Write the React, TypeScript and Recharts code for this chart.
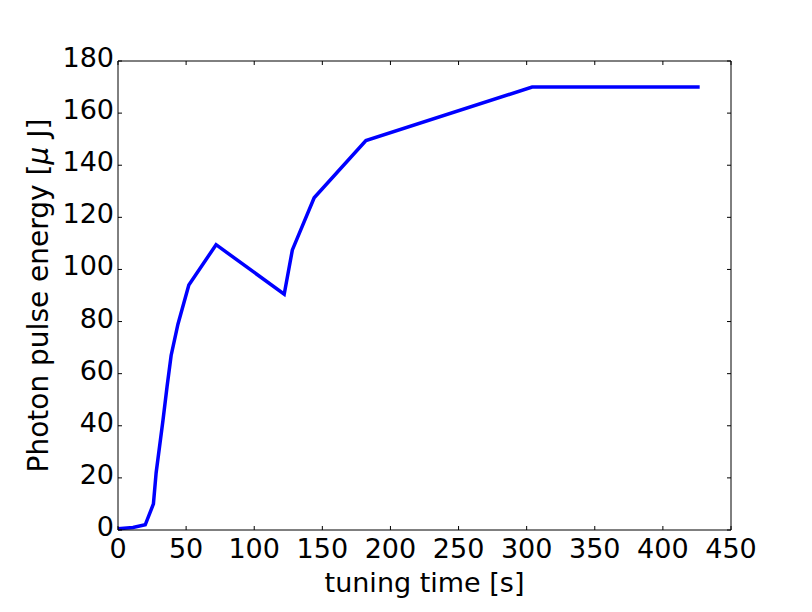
import { LineChart, Line, XAxis, YAxis, Label } from "recharts";

// tuning run
const tuningTime = [0, 11, 20, 26, 28, 33, 36, 39, 44, 52, 72, 122, 128, 144, 182, 304, 427];
const pulseEnergy = [0.5, 1, 2, 10, 22, 42, 55, 67, 79, 94, 109.5, 90.5, 107.5, 127.5, 149.5, 170, 170];
const xTicks = [0, 50, 100, 150, 200, 250, 300, 350, 400, 450];
const yTicks = [0, 20, 40, 60, 80, 100, 120, 140, 160, 180];

const data = tuningTime.map((t, i) => ({ t, e: pulseEnergy[i] }));

const font = "'DejaVu Sans', sans-serif";
const FS = 27;
const TICK = 4;

const BottomTick = (props: any) => {
  const { x, y, payload } = props;
  return (
    <g>
      <line x1={x} y1={y} x2={x} y2={y - TICK} stroke="#000" />
      <text x={x} y={y + 28} textAnchor="middle" fontSize={FS} fontFamily={font} fill="#000">
        {payload.value}
      </text>
    </g>
  );
};

const TopTick = (props: any) => {
  const { x, y } = props;
  return <line x1={x} y1={y} x2={x} y2={y + TICK} stroke="#000" />;
};

const LeftTick = (props: any) => {
  const { x, y, payload } = props;
  return (
    <g>
      <line x1={x} y1={y} x2={x + TICK} y2={y} stroke="#000" />
      <text x={x - 4} y={y + 6} textAnchor="end" fontSize={FS} fontFamily={font} fill="#000">
        {payload.value}
      </text>
    </g>
  );
};

const RightTick = (props: any) => {
  const { x, y } = props;
  return <line x1={x} y1={y} x2={x - TICK} y2={y} stroke="#000" />;
};

export default function App() {
  return (
    <div style={{ position: "absolute", left: 0, top: 0, width: 812, height: 612, background: "#fff" }}>
      <LineChart width={812} height={612} data={data} margin={{ top: 51, right: 71, bottom: 0, left: 0 }}>
        <XAxis
          dataKey="t"
          type="number"
          domain={[0, 450]}
          ticks={xTicks}
          height={82}
          tickSize={0}
          tickMargin={0}
          tickLine={false}
          axisLine={{ stroke: "#000" }}
          tick={<BottomTick />}
          interval={0}
        >
          <Label
            content={() => (
              <text x={424.5} y={591.5} textAnchor="middle" fontSize={FS} fontFamily={font} fill="#000">
                tuning time [s]
              </text>
            )}
          />
        </XAxis>
        <XAxis
          xAxisId="top"
          orientation="top"
          dataKey="t"
          type="number"
          domain={[0, 450]}
          ticks={xTicks}
          height={10}
          tickSize={0}
          tickMargin={0}
          tickLine={false}
          axisLine={{ stroke: "#000" }}
          tick={<TopTick />}
          interval={0}
        />
        <YAxis
          type="number"
          domain={[0, 180]}
          ticks={yTicks}
          width={118}
          tickSize={0}
          tickMargin={0}
          tickLine={false}
          axisLine={{ stroke: "#000" }}
          tick={<LeftTick />}
          interval={0}
        >
          <Label
            content={() => (
              <text
                x={48}
                y={295.5}
                transform="rotate(-90, 48, 295.5)"
                textAnchor="middle"
                fontSize={28}
                fontFamily={font}
                fill="#000"
              >
                Photon pulse energy [<tspan fontStyle="italic">μ</tspan> J]
              </text>
            )}
          />
        </YAxis>
        <YAxis
          yAxisId="right"
          orientation="right"
          type="number"
          domain={[0, 180]}
          ticks={yTicks}
          width={10}
          tickSize={0}
          tickMargin={0}
          tickLine={false}
          axisLine={{ stroke: "#000" }}
          tick={<RightTick />}
          interval={0}
        />
        {/* invisible copy so the top and right frame axes get drawn */}
        <Line
          xAxisId="top"
          yAxisId="right"
          type="linear"
          dataKey="e"
          stroke="none"
          dot={false}
          legendType="none"
          isAnimationActive={false}
        />
        <Line
          type="linear"
          dataKey="e"
          stroke="#0000ff"
          strokeWidth={3.5}
          dot={false}
          isAnimationActive={false}
        />
      </LineChart>
    </div>
  );
}
